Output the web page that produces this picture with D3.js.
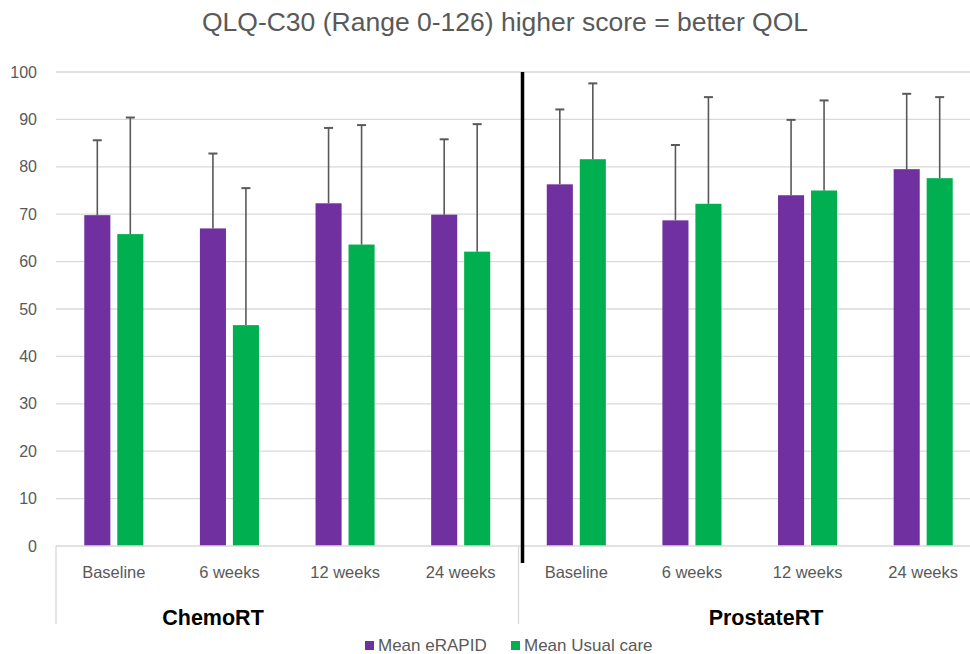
<!DOCTYPE html>
<html>
<head>
<meta charset="utf-8">
<script src="https://cdn.jsdelivr.net/npm/d3@7"></script>
<style>
  body { margin: 0; background: #fff; }
  svg { display: block; font-family: "Liberation Sans", Arial, sans-serif; }
</style>
</head>
<body>
<script>
// values
var groups = ["ChemoRT", "ProstateRT"];
var timepoints = ["Baseline", "6 weeks", "12 weeks", "24 weeks"];
var series = ["Mean eRAPID", "Mean Usual care"];
var eRapidMean = [69.8, 67.0, 72.3, 69.9, 76.3, 68.7, 74.0, 79.5];
var eRapidUpper = [85.6, 82.8, 88.2, 85.8, 92.1, 84.6, 89.9, 95.4];
var usualMean = [65.8, 46.6, 63.6, 62.1, 81.6, 72.2, 75.0, 77.6];
var usualUpper = [90.4, 75.5, 88.8, 89.0, 97.6, 94.7, 94.0, 94.7];
var yTicks = [0, 10, 20, 30, 40, 50, 60, 70, 80, 90, 100];
var colors = ["#7030a0", "#00b050"];

(function() {
var W = 970, H = 654;
var mLeft = 56, mRight = 981, mTop = 72, mBottom = 546;

var svg = d3.select("body").append("svg")
    .attr("width", W)
    .attr("height", H);

// one entry per category (group x timepoint)
var cats = [];
groups.forEach(function(g) {
    timepoints.forEach(function(t) { cats.push(g + "|" + t); });
});

var x = d3.scaleBand().domain(cats).range([mLeft, mRight]).paddingInner(0).paddingOuter(0);
var x1 = d3.scaleBand().domain(series).range([0, x.bandwidth()]).paddingInner(0.21).paddingOuter(0.857);
var y = d3.scaleLinear().domain([0, 100]).range([mBottom, mTop]);

// title
svg.append("text")
    .attr("x", 505).attr("y", 31)
    .attr("text-anchor", "middle")
    .attr("font-size", 26.5)
    .attr("fill", "#595959")
    .text("QLQ-C30 (Range 0-126) higher score = better QOL");

// gridlines
svg.append("g").selectAll("line")
    .data(yTicks.filter(function(d) { return d > 0; }))
    .enter().append("line")
    .attr("x1", mLeft).attr("x2", W)
    .attr("y1", function(d) { return y(d); })
    .attr("y2", function(d) { return y(d); })
    .attr("stroke", "#d9d9d9")
    .attr("stroke-width", 1.3);

// y axis labels
var yAxis = d3.axisLeft(y).tickValues(yTicks).tickSize(0).tickPadding(19);
var ya = svg.append("g").attr("transform", "translate(" + mLeft + ",0)").call(yAxis);
ya.select(".domain").remove();
ya.selectAll("text")
    .attr("font-size", 16)
    .attr("fill", "#595959")
    .attr("font-family", "Liberation Sans, Arial, sans-serif");

// bars
var flat = [];
cats.forEach(function(c, i) {
    flat.push({cat: c, s: series[0], v: eRapidMean[i], up: eRapidUpper[i], col: colors[0]});
    flat.push({cat: c, s: series[1], v: usualMean[i], up: usualUpper[i], col: colors[1]});
});

svg.append("g").selectAll("rect")
    .data(flat)
    .enter().append("rect")
    .attr("x", function(d) { return x(d.cat) + x1(d.s); })
    .attr("y", function(d) { return y(d.v); })
    .attr("width", x1.bandwidth())
    .attr("height", function(d) { return y(0) - y(d.v); })
    .attr("fill", function(d) { return d.col; });

// error bars (upper only)
var cx = function(d) { return x(d.cat) + x1(d.s) + x1.bandwidth() / 2; };
var errG = svg.append("g").attr("stroke", "#595959").attr("stroke-width", 1.6);
errG.selectAll("line.stem")
    .data(flat)
    .enter().append("line")
    .attr("class", "stem")
    .attr("x1", cx).attr("x2", cx)
    .attr("y1", function(d) { return y(d.v); })
    .attr("y2", function(d) { return y(d.up); });
errG.selectAll("line.cap")
    .data(flat)
    .enter().append("line")
    .attr("class", "cap")
    .attr("x1", function(d) { return cx(d) - 4.5; })
    .attr("x2", function(d) { return cx(d) + 4.5; })
    .attr("y1", function(d) { return y(d.up); })
    .attr("y2", function(d) { return y(d.up); })
    .attr("stroke-width", 2);

// baseline axis
svg.append("line")
    .attr("x1", mLeft).attr("x2", W)
    .attr("y1", y(0)).attr("y2", y(0))
    .attr("stroke", "#d9d9d9").attr("stroke-width", 1.3);

// category labels
svg.append("g").selectAll("text")
    .data(cats)
    .enter().append("text")
    .attr("x", function(d) { return x(d) + x.bandwidth() / 2; })
    .attr("y", 578)
    .attr("text-anchor", "middle")
    .attr("font-size", 16.5)
    .attr("fill", "#595959")
    .text(function(d) { return d.split("|")[1]; });

// group separators
var sepX = [mLeft, x(groups[1] + "|" + timepoints[0])];
svg.append("g").selectAll("line")
    .data(sepX)
    .enter().append("line")
    .attr("x1", function(d) { return d; })
    .attr("x2", function(d) { return d; })
    .attr("y1", y(0)).attr("y2", 624)
    .attr("stroke", "#d9d9d9").attr("stroke-width", 1.3);

// group labels
var groupX = [213, 766];
svg.append("g").selectAll("text")
    .data(groups)
    .enter().append("text")
    .attr("x", function(d, i) { return groupX[i]; })
    .attr("y", 625)
    .attr("text-anchor", "middle")
    .attr("font-size", 21.5)
    .attr("font-weight", "bold")
    .attr("fill", "#000")
    .text(function(d) { return d; });

// black divider drawn on the chart
svg.append("line")
    .attr("x1", 522.5).attr("x2", 522.5)
    .attr("y1", y(100)).attr("y2", 563)
    .attr("stroke", "#000").attr("stroke-width", 3.5);

// legend
var legX = [365, 511];
var leg = svg.append("g").selectAll("g")
    .data(series)
    .enter().append("g")
    .attr("transform", function(d, i) { return "translate(" + legX[i] + ",640)"; });
leg.append("rect")
    .attr("width", 9).attr("height", 9).attr("y", 1)
    .attr("fill", function(d, i) { return colors[i]; });
leg.append("text")
    .attr("x", 13).attr("y", 11)
    .attr("font-size", 17)
    .attr("fill", "#595959")
    .text(function(d) { return d; });
})();
</script>
</body>
</html>
